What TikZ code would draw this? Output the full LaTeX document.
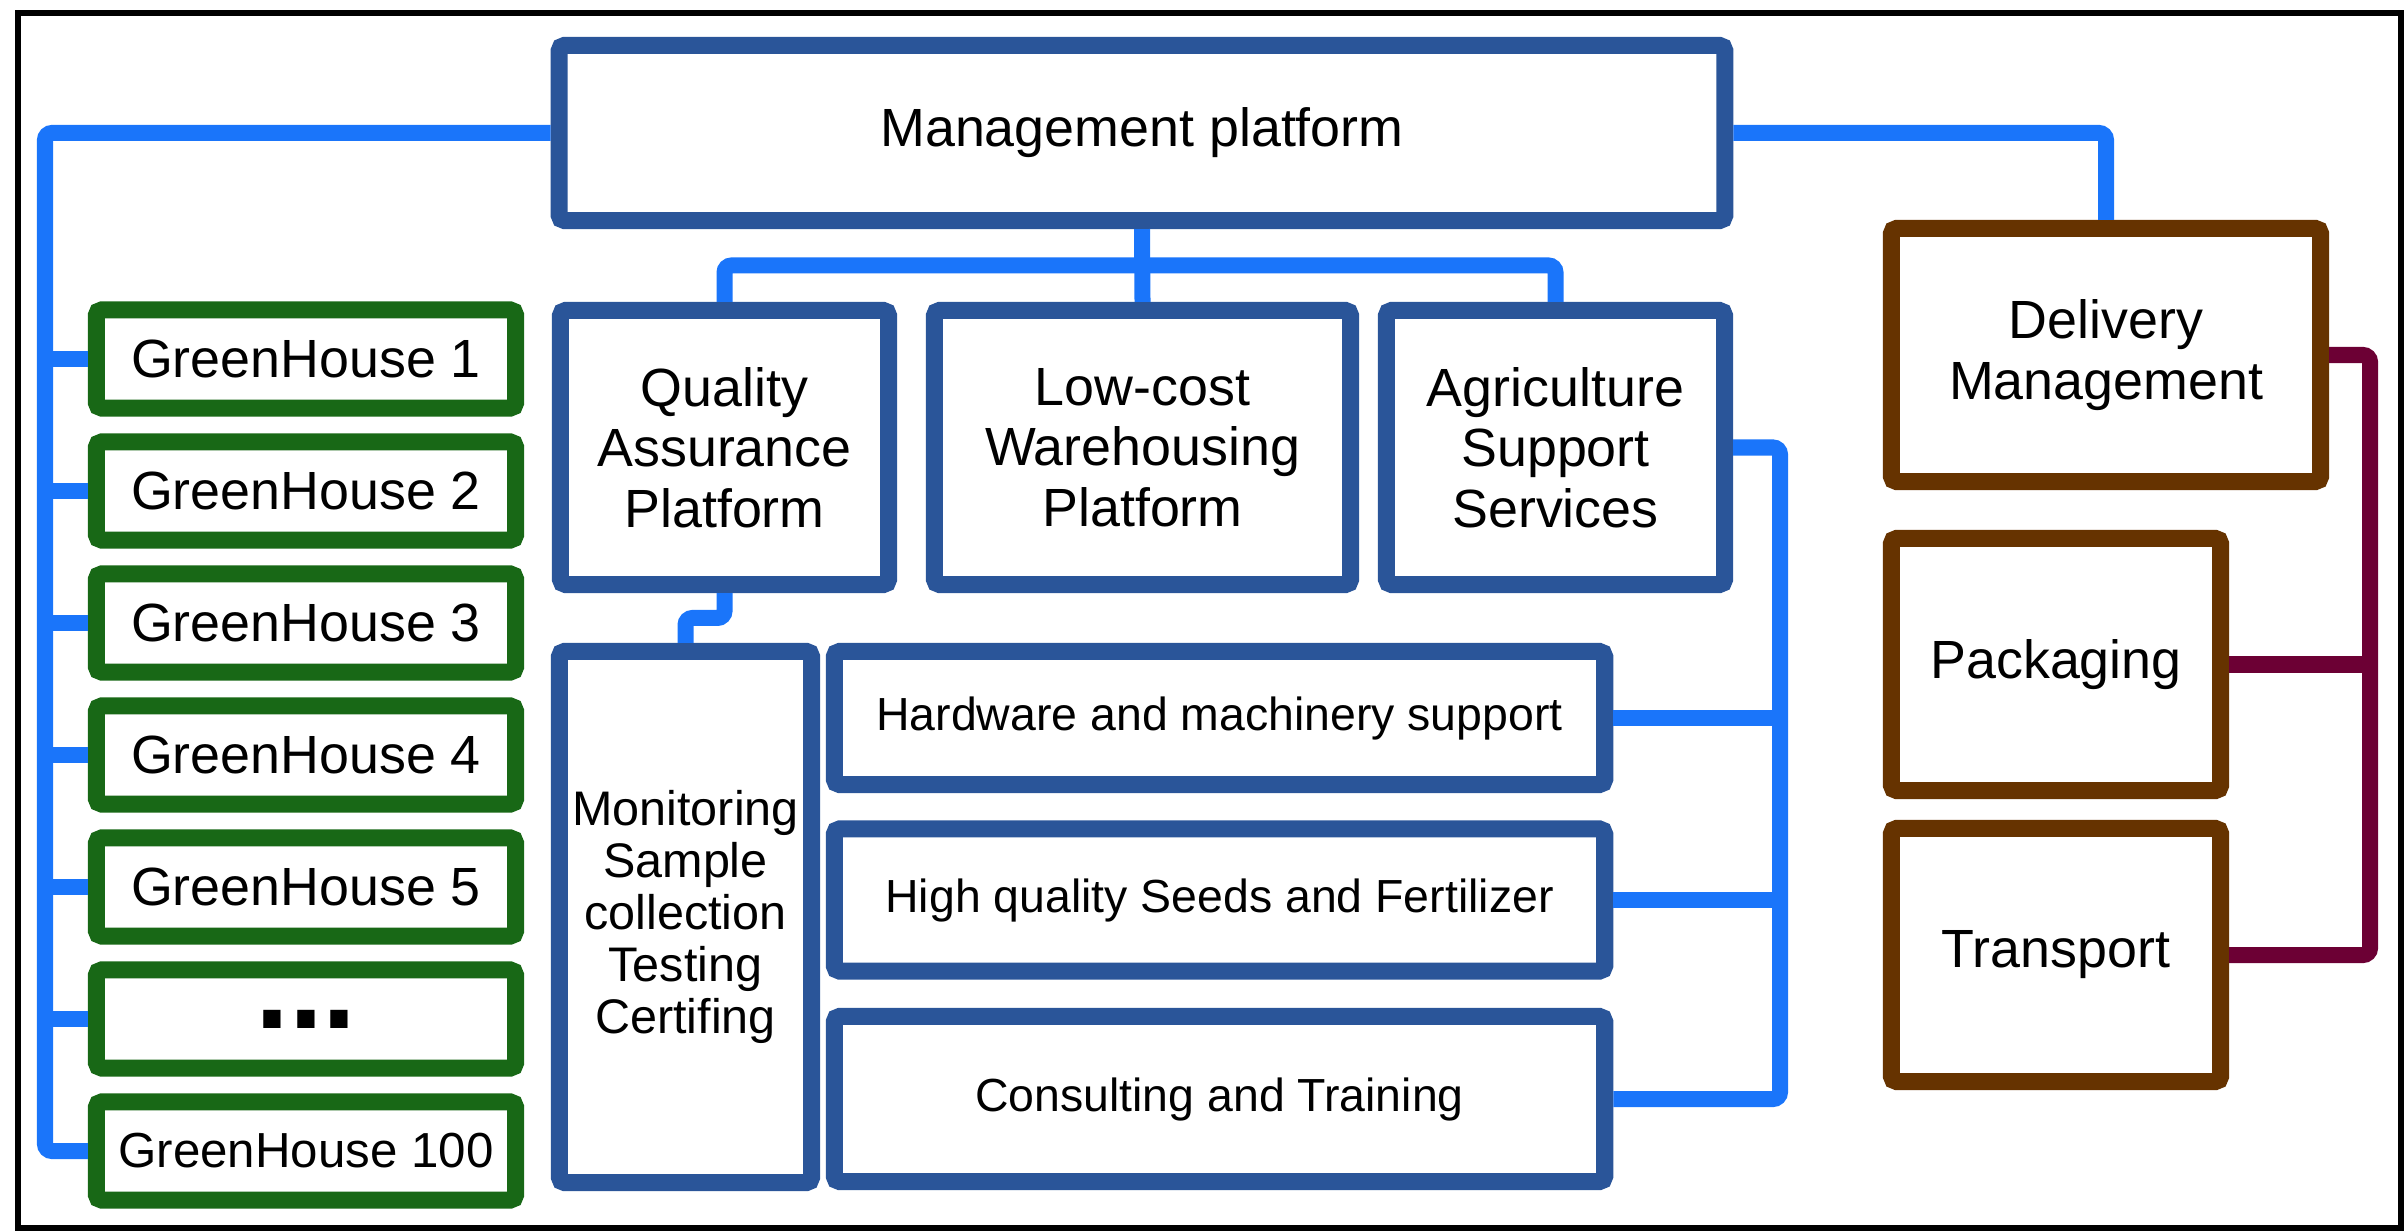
\documentclass[tikz,border=0pt]{standalone}
\usepackage{fontspec}
\setmainfont{Liberation Sans}
\usepackage{xcolor}
\usepackage{tikz}
\usetikzlibrary{positioning, calc}
\definecolor{platformblue}{RGB}{42,85,153}
\definecolor{linkblue}{RGB}{26,117,250}
\definecolor{housegreen}{RGB}{24,104,22}
\definecolor{deliverybrown}{RGB}{102,51,0}
\definecolor{linkmaroon}{RGB}{108,0,52}

\begin{document}
\begin{tikzpicture}[x=0.01cm, y=-0.01cm,
	every node/.style={font=\fontsize{15.3}{17.2}\selectfont, align=center, inner sep=0pt, fill=white},
	platform/.style={draw=platformblue, line width=0.17cm, rounded corners=1.5pt},
	service/.style={platform, minimum width=7.7cm, font=\fontsize{13.2}{15}\selectfont},
	house/.style={draw=housegreen, line width=0.17cm, rounded corners=1.5pt, minimum width=4.19cm, minimum height=0.98cm},
	delivery/.style={draw=deliverybrown, line width=0.17cm, rounded corners=1.5pt},
	link/.style={linkblue, line width=0.16cm, rounded corners=2pt},
	deliverylink/.style={linkmaroon, line width=0.16cm, rounded corners=2pt}]
			\useasboundingbox (0,0) rectangle (2404,1231);
			\draw[black, line width=0.06cm] (18,13) rectangle (2401,1228);
			
			\pgfmathsetmacro{\housestep}{132}
			
			\node[platform, minimum width=11.65cm, minimum height=1.75cm] (mgmt) at (1142,133) {Management platform};
			
			\node[platform, minimum width=3.28cm, minimum height=2.74cm] (qa) at (724.5,447.5) {Quality\\Assurance\\Platform};
			\node[platform, minimum width=4.16cm, minimum height=2.74cm] (lc) at (1142.5,447.5) {Low-cost\\Warehousing\\Platform};
			\node[platform, minimum width=3.38cm, minimum height=2.74cm] (ag) at (1555.5,447.5) {Agriculture\\Support\\Services};
			
			\node[platform, minimum width=2.52cm, minimum height=5.31cm, font=\fontsize{13.8}{14.8}\selectfont] (mon) at (685.5,917) {Monitoring\\Sample\\collection\\Testing\\Certifing};
			
			\node[service, minimum height=1.33cm] (hw) at (1219.5,718) {Hardware and machinery support};
			\node[service, minimum height=1.42cm] (hq) at (1219.5,900) {High quality Seeds and Fertilizer};
			\node[service, minimum height=1.65cm] (ct) at (1219.5,1099) {Consulting and Training};
			
			\foreach \i/\txt in {0/GreenHouse 1, 1/GreenHouse 2, 2/GreenHouse 3, 3/GreenHouse 4, 4/GreenHouse 5}
				\node[house] (gh\i) at (306,{359+\housestep*\i}) {\txt};
			\node[house, font=\fontsize{34.7}{36}\selectfont\bfseries] (gh5) at (306,{359+\housestep*5}) {...};
			\node[house, font=\fontsize{14}{16}\selectfont] (gh6) at (306,{359+\housestep*6}) {GreenHouse 100};
			
			\node[delivery, minimum width=4.29cm, minimum height=2.53cm] (dm) at (2106,355) {Delivery\\Management};
			\node[delivery, minimum width=3.29cm, minimum height=2.52cm] (pk) at (2056,664.5) {Packaging};
			\node[delivery, minimum width=3.29cm, minimum height=2.53cm] (tr) at (2056,955) {Transport};
			
			%% greenhouse bus
			\coordinate (housebus) at (45,1151);
			\draw[link] (mgmt.west) -| (housebus) -- (gh6.west);
			\foreach \i in {0,...,5}
				\draw[link] (gh\i.west) -- (housebus |- gh\i.west);
			
			%% platforms
			\draw[link] (mgmt.south) -- (lc.north);
			\draw[link] (qa.north) |- ($(mgmt.south)!0.5!(lc.north)$) -| (ag.north);
			\draw[link] (qa.south) |- ($(qa.south)!0.5!(mon.north)$) -| (mon.north);
			\draw[link] (mgmt.east) -| (dm.north);
			
			%% support services bus
			\coordinate (servicebus) at (1780,1099);
			\draw[link] (ag.east) -| (servicebus) -- (ct.east);
			\draw[link] (hw.east) -- (servicebus |- hw.east);
			\draw[link] (hq.east) -- (servicebus |- hq.east);
			
			%% delivery bus
			\coordinate (deliverybus) at (2370,955);
			\draw[deliverylink] (dm.east) -| (deliverybus) -- (tr.east);
			\draw[deliverylink] (pk.east) -- (deliverybus |- pk.east);
\end{tikzpicture}
\end{document}
